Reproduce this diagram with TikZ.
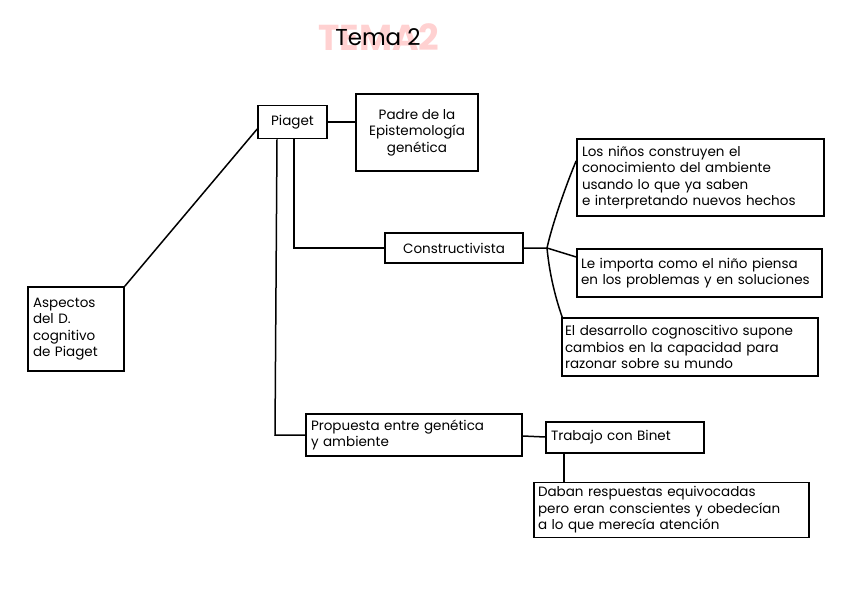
\documentclass[tikz,border=0pt]{standalone}
\usepackage{fontspec}
\setmainfont{Poppins}
\usetikzlibrary{calc}
\newcommand\mynohyph{\hyphenpenalty=10000 \exhyphenpenalty=10000 \relax}
\begin{document}
\begin{tikzpicture}[x=1pt,y=-1pt,
  box/.style={draw=black,line width=1.6pt,inner sep=4pt,align=left,font={\fontsize{13.5}{16.5}\selectfont\mynohyph}},
  conn/.style={draw=black,line width=1.5pt}]
\useasboundingbox[fill=white] (0,0) rectangle (848,599);
% title
\node[text=red!40!white,opacity=0.45,font=\fontsize{36}{38}\selectfont\bfseries] (ghost) at (379,37) {TEMA2};
\node[font=\fontsize{23}{26}\selectfont] (title) at (378,37) {Tema 2};
% boxes
\node[box,minimum width=69,minimum height=33] (piaget) at (292.5,122) {Piaget};
\node[box,minimum width=122,minimum height=77,align=center] (padre) at (417,132.5) {Padre de la\\Epistemología\\genética};
\node[box,minimum width=96,minimum height=84,text width=86] (asp) at (76,329) {Aspectos\\del D.\\cognitivo\\de Piaget};
\node[box,minimum width=138,minimum height=30] (cons) at (454,248) {Constructivista};
\node[box,minimum width=247,minimum height=77,text width=237] (ninos) at (700.5,177.5) {Los niños construyen el\\conocimiento del ambiente\\usando lo que ya saben\\e interpretando nuevos hechos};
\node[box,minimum width=245,minimum height=48,text width=237] (imp) at (699.5,273) {Le importa como el niño piensa\\en los problemas y en soluciones};
\node[box,minimum width=256,minimum height=58,text width=250,inner sep=3pt] (des) at (690,347) {El desarrollo cognoscitivo supone\\cambios en la capacidad para\\razonar sobre su mundo};
\node[box,minimum width=216,minimum height=42,text width=206] (prop) at (414,435) {Propuesta entre genética\\y ambiente};
\node[box,minimum width=158,minimum height=31,text width=148] (trab) at (625,437.5) {Trabajo con Binet};
\node[box,minimum width=275,minimum height=54,text width=267] (dab) at (671.5,510) {Daban respuestas equivocadas\\pero eran conscientes y obedecían\\a lo que merecía atención};
% connectors
\coordinate (br) at (547,248);
\draw[conn] (asp.north east) -- ([yshift=-7]piaget.west);
\draw[conn] (piaget.east) -- (piaget.east -| padre.west);
\draw[conn] ([xshift=-15.5]piaget.south) -- ([xshift=-17.5]piaget.south |- prop.west) -- (prop.west);
\draw[conn] ([xshift=1.5]piaget.south) |- (cons.west);
\draw[conn] (cons.east) -- (br) -- ([yshift=16]imp.west);
\draw[conn] ([yshift=56]ninos.south west) .. controls (566,185) and (552,225) .. (br)
  .. controls (550,280) and (558,305) .. ([xshift=1]des.north west);
\draw[conn] ([yshift=-1]prop.east) -- ([yshift=0.5]trab.west);
\draw[conn] ([xshift=-61]trab.south) -- ([xshift=-61]trab.south |- dab.north);
\end{tikzpicture}
\end{document}
